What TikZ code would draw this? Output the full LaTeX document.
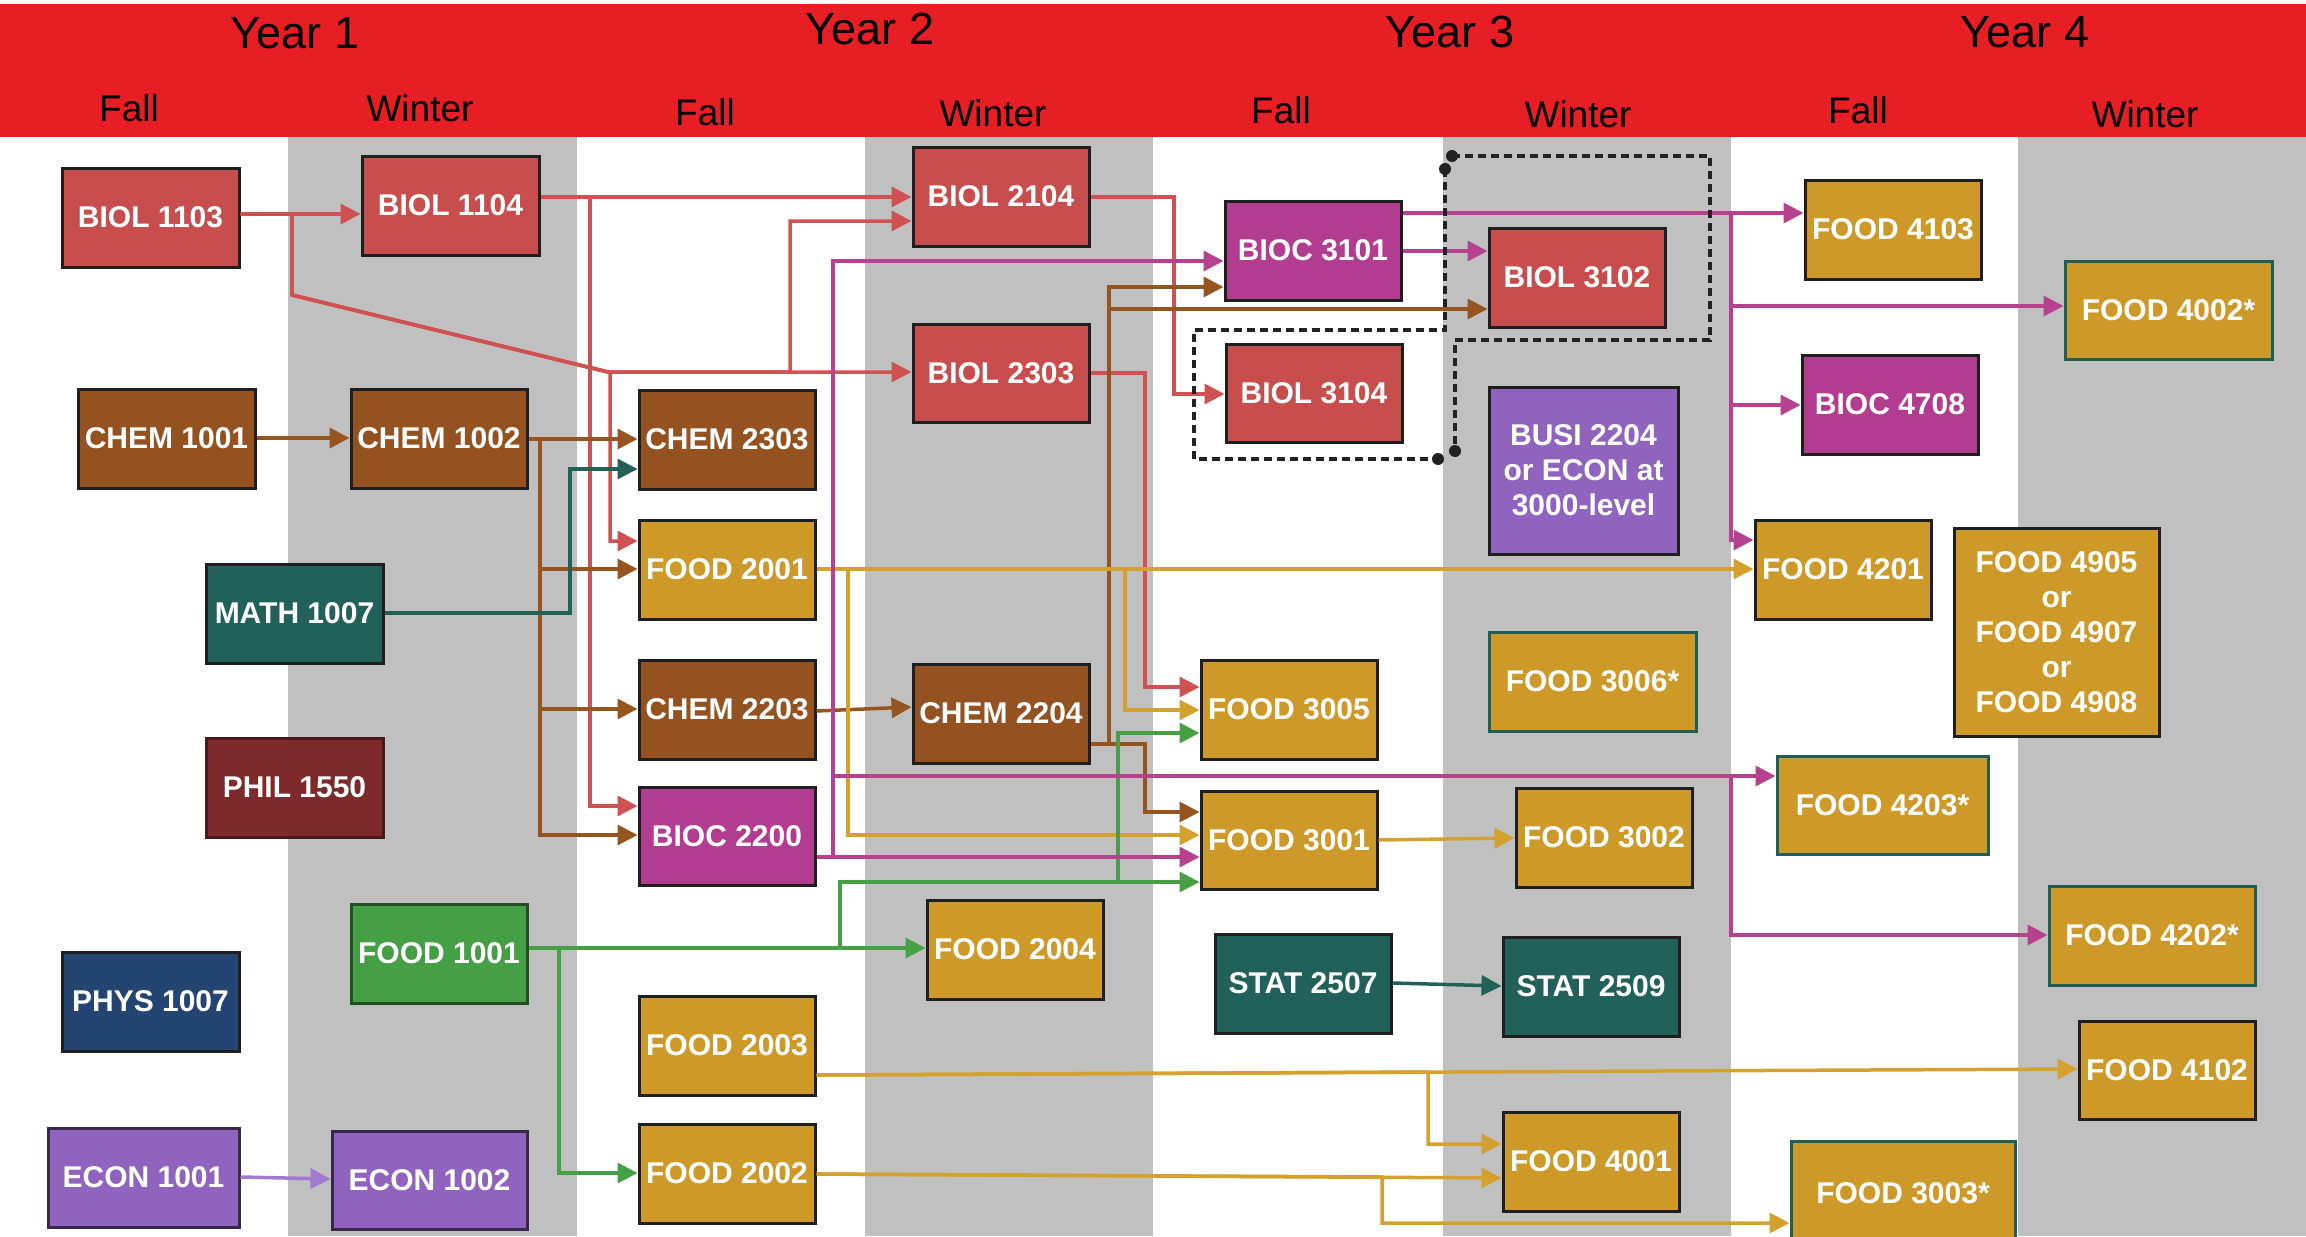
\documentclass[tikz,border=0pt]{standalone}
\usepackage{fontspec}
\setmainfont{Liberation Sans}
\usetikzlibrary{arrows.meta}
\definecolor{hdr}{HTML}{E81E25}
\definecolor{band}{HTML}{C0C0C0}
\definecolor{cbiol}{HTML}{C84E4E}
\definecolor{cchem}{HTML}{945220}
\definecolor{cteal}{HTML}{22615A}
\definecolor{cphil}{HTML}{7E2A2B}
\definecolor{cphys}{HTML}{244571}
\definecolor{cfood}{HTML}{CD9A29}
\definecolor{cgreen}{HTML}{45A045}
\definecolor{cecon}{HTML}{9063BE}
\definecolor{cbioc}{HTML}{B23C8F}
\definecolor{lbiol}{HTML}{CF5151}
\definecolor{lchem}{HTML}{96541F}
\definecolor{lteal}{HTML}{236157}
\definecolor{lfood}{HTML}{D4A12E}
\definecolor{lgreen}{HTML}{46A145}
\definecolor{lbioc}{HTML}{B5418F}
\definecolor{lecon}{HTML}{A07AD0}
\definecolor{edgeteal}{HTML}{1F5E56}
\definecolor{dashc}{HTML}{222222}
\newcommand\crs[7]{\node[box,#6,minimum width={(#4-#2)*1pt},minimum height={(#5-#3)*1pt}] (#1) at ({(#2+#4)/2},{(#3+#5)/2}) {#7};}
\begin{document}
\begin{tikzpicture}[x=1pt,y=-1pt,
  box/.style={draw=black!88, line width=3pt, inner sep=0pt, text=white,
    font=\fontsize{30}{35}\selectfont\bfseries, align=center},
  yearlbl/.style={inner sep=0pt, font=\fontsize{45}{50}\selectfont},
  semlbl/.style={inner sep=0pt, font=\fontsize{37}{42}\selectfont},
  conn/.style={line width=3.5pt, -{Triangle[length=20pt,width=20pt]}},
  biolc/.style={conn, draw=lbiol},
  chemc/.style={conn, draw=lchem},
  tealc/.style={conn, draw=lteal},
  foodc/.style={conn, draw=lfood},
  greenc/.style={conn, draw=lgreen},
  biocc/.style={conn, draw=lbioc},
  econc/.style={conn, draw=lecon},
  bracket/.style={draw=dashc, line width=4pt, dash pattern=on 8pt off 5pt},
  enddot/.style={fill=dashc, circle, inner sep=0pt, minimum size=12pt}
]
\useasboundingbox (0,0) rectangle (2306,1236);
\fill[white] (0,0) rectangle (2306,1236);
% header and bands
\fill[hdr] (0,4) rectangle (2306,137);
\fill[band] (288,137) rectangle (576.5,1236);
\fill[band] (864.5,137) rectangle (1153,1236);
\fill[band] (1443,137) rectangle (1731,1236);
\fill[band] (2018,137) rectangle (2306,1236);
\node[yearlbl] (y1) at (295,33) {Year 1};
\node[yearlbl] (y2) at (870,29) {Year 2};
\node[yearlbl] (y3) at (1450,32) {Year 3};
\node[yearlbl] (y4) at (2025,32) {Year 4};
\node[semlbl] (s1) at (129,108) {Fall};
\node[semlbl] (s2) at (420,108) {Winter};
\node[semlbl] (s3) at (705,112) {Fall};
\node[semlbl] (s4) at (993,113) {Winter};
\node[semlbl] (s5) at (1281,110) {Fall};
\node[semlbl] (s6) at (1578,114) {Winter};
\node[semlbl] (s7) at (1858,110) {Fall};
\node[semlbl] (s8) at (2145,114) {Winter};
% course boxes
\crs{b1103}{62}{168}{239}{267}{fill=cbiol}{BIOL 1103}
\crs{b1104}{362}{156}{539}{255}{fill=cbiol}{BIOL 1104}
\crs{c1001}{78}{389}{255}{488}{fill=cchem}{CHEM 1001}
\crs{c1002}{351}{389}{527}{488}{fill=cchem}{CHEM 1002}
\crs{m1007}{206}{564}{383}{663}{fill=cteal}{MATH 1007}
\crs{p1550}{206}{738}{383}{837}{fill=cphil,draw=cphil!60!black}{PHIL 1550}
\crs{ph1007}{62}{952}{239}{1051}{fill=cphys}{PHYS 1007}
\crs{f1001}{351}{904}{527}{1003}{fill=cgreen,draw=cgreen!50!black}{FOOD 1001}
\crs{e1001}{48}{1128}{239}{1227}{fill=cecon,draw=cecon!40!black}{ECON 1001}
\crs{e1002}{332}{1131}{527}{1229}{fill=cecon,draw=cecon!40!black}{ECON 1002}
\crs{c2303}{639}{390}{815}{489}{fill=cchem}{CHEM 2303}
\crs{f2001}{639}{520}{815}{619}{fill=cfood}{FOOD 2001}
\crs{c2203}{639}{660}{815}{759}{fill=cchem}{CHEM 2203}
\crs{bc2200}{639}{787}{815}{885}{fill=cbioc}{BIOC 2200}
\crs{f2003}{639}{996}{815}{1095}{fill=cfood}{FOOD 2003}
\crs{f2002}{639}{1124}{815}{1223}{fill=cfood}{FOOD 2002}
\crs{b2104}{913}{147}{1089}{246}{fill=cbiol}{BIOL 2104}
\crs{b2303}{913}{324}{1089}{422}{fill=cbiol}{BIOL 2303}
\crs{c2204}{913}{664}{1089}{763}{fill=cchem}{CHEM 2204}
\crs{f2004}{927}{900}{1103}{999}{fill=cfood}{FOOD 2004}
\crs{bc3101}{1225}{201}{1401}{300}{fill=cbioc}{BIOC 3101}
\crs{b3104}{1226}{344}{1402}{442}{fill=cbiol}{BIOL 3104}
\crs{f3005}{1201}{660}{1377}{759}{fill=cfood}{FOOD 3005}
\crs{f3001}{1201}{791}{1377}{889}{fill=cfood}{FOOD 3001}
\crs{s2507}{1215}{934}{1391}{1033}{fill=cteal}{STAT 2507}
\crs{b3102}{1489}{228}{1665}{327}{fill=cbiol}{BIOL 3102}
\crs{busi}{1489}{387}{1678}{554}{fill=cecon}{BUSI 2204\\or ECON at\\3000-level}
\crs{f3006}{1489}{632}{1696}{731}{fill=cfood,draw=edgeteal}{FOOD 3006*}
\crs{f3002}{1516}{788}{1692}{887}{fill=cfood}{FOOD 3002}
\crs{s2509}{1503}{937}{1679}{1036}{fill=cteal}{STAT 2509}
\crs{f4001}{1503}{1112}{1679}{1211}{fill=cfood}{FOOD 4001}
\crs{f4103}{1805}{180}{1981}{279}{fill=cfood}{FOOD 4103}
\crs{bc4708}{1802}{355}{1978}{454}{fill=cbioc}{BIOC 4708}
\crs{f4201}{1755}{520}{1931}{619}{fill=cfood}{FOOD 4201}
\crs{f4203}{1777}{756}{1988}{854}{fill=cfood,draw=edgeteal}{FOOD 4203*}
\crs{f3003}{1791}{1141}{2015}{1246}{fill=cfood,draw=edgeteal}{FOOD 3003*}
\crs{f4002}{2065}{261}{2272}{359}{fill=cfood,draw=edgeteal}{FOOD 4002*}
\crs{f49}{1954}{528}{2159}{736}{fill=cfood}{FOOD 4905\\or\\FOOD 4907\\or\\FOOD 4908}
\crs{f4202}{2049}{886}{2255}{985}{fill=cfood,draw=edgeteal}{FOOD 4202*}
\crs{f4102}{2079}{1021}{2255}{1119}{fill=cfood}{FOOD 4102}
% red (BIOL) connectors
\draw[biolc] (b1103.east |- 0,214) -- (b1104.west |- 0,214);
\draw[biolc] (b1103.east |- 0,214) -- (292,214) -- (292,295) -- (608,372) -- (b2303.west |- 0,372);
\draw[biolc] (b1103.east |- 0,214) -- (292,214) -- (292,295) -- (608,372) -- (790,372) -- (790,221) -- (b2104.west |- 0,221);
\draw[biolc] (b1103.east |- 0,214) -- (292,214) -- (292,295) -- (608,372) -- (610,372) -- (610,541) -- (f2001.west |- 0,541);
\draw[biolc] (b1104.east |- 0,197) -- (b2104.west |- 0,197);
\draw[biolc] (b1104.east |- 0,197) -- (590,197) -- (590,806) -- (bc2200.west |- 0,806);
\draw[biolc] (b2104.east |- 0,197) -- (1174,197) -- (1174,394) -- (b3104.west |- 0,394);
\draw[biolc] (b2303.east |- 0,373) -- (1145,373) -- (1145,687) -- (f3005.west |- 0,687);
% brown (CHEM) connectors
\draw[chemc] (c1001.east |- 0,438) -- (c1002.west |- 0,438);
\draw[chemc] (c1002.east |- 0,439) -- (c2303.west |- 0,439);
\draw[chemc] (c1002.east |- 0,439) -- (540,439) -- (540,569) -- (f2001.west |- 0,569);
\draw[chemc] (c1002.east |- 0,439) -- (540,439) -- (540,709) -- (c2203.west |- 0,709);
\draw[chemc] (c1002.east |- 0,439) -- (540,439) -- (540,835) -- (bc2200.west |- 0,835);
\draw[chemc] (c2203.east |- 0,711) -- (c2204.west |- 0,707);
\draw[chemc] (c2204.east |- 0,744) -- (1109,744) -- (1109,287) -- (bc3101.west |- 0,287);
\draw[chemc] (c2204.east |- 0,744) -- (1109,744) -- (1109,309) -- (b3102.west |- 0,309);
\draw[chemc] (c2204.east |- 0,744) -- (1145,744) -- (1145,812) -- (f3001.west |- 0,812);
% teal connectors
\draw[tealc] (m1007.east |- 0,613) -- (570,613) -- (570,469) -- (c2303.west |- 0,469);
\draw[tealc] (s2507.east |- 0,983) -- (s2509.west |- 0,986);
% gold (FOOD) connectors
\draw[foodc] (f2001.east |- 0,569) -- (f4201.west |- 0,569);
\draw[foodc] (f2001.east |- 0,569) -- (848,569) -- (848,835) -- (f3001.west |- 0,835);
\draw[foodc] (f2001.east |- 0,569) -- (1125,569) -- (1125,710) -- (f3005.west |- 0,710);
\draw[foodc] (f3001.east |- 0,840) -- (f3002.west |- 0,838);
\draw[foodc] (f2003.east |- 0,1075) -- (f4102.west |- 0,1069);
\draw[foodc] (f2003.east |- 0,1075) -- (1428,1072) -- (1428,1144) -- (f4001.west |- 0,1144);
\draw[foodc] (f2002.east |- 0,1174) -- (f4001.west |- 0,1178);
\draw[foodc] (f2002.east |- 0,1174) -- (1382,1177) -- (1382,1223) -- (f3003.west |- 0,1223);
% green connectors
\draw[greenc] (f1001.east |- 0,948) -- (f2004.west |- 0,948);
\draw[greenc] (f1001.east |- 0,948) -- (559,948) -- (559,1173) -- (f2002.west |- 0,1173);
\draw[greenc] (f1001.east |- 0,948) -- (840,948) -- (840,882) -- (f3001.west |- 0,882);
\draw[greenc] (f1001.east |- 0,948) -- (840,948) -- (840,882) -- (1118,882) -- (1118,733) -- (f3005.west |- 0,733);
% magenta (BIOC) connectors
\draw[biocc] (bc2200.east |- 0,857) -- (f3001.west |- 0,857);
\draw[biocc] (bc2200.east |- 0,857) -- (833,857) -- (833,776) -- (f4203.west |- 0,776);
\draw[biocc] (bc2200.east |- 0,857) -- (833,857) -- (833,776) -- (1731,776) -- (1731,935) -- (f4202.west |- 0,935);
\draw[biocc] (bc2200.east |- 0,857) -- (833,857) -- (833,261) -- (bc3101.west |- 0,261);
\draw[biocc] (bc3101.east |- 0,213) -- (f4103.west |- 0,213);
\draw[biocc] (bc3101.east |- 0,251) -- (b3102.west |- 0,251);
\draw[biocc] (bc3101.east |- 0,213) -- (1731,213) -- (1731,306) -- (f4002.west |- 0,306);
\draw[biocc] (bc3101.east |- 0,213) -- (1731,213) -- (1731,405) -- (bc4708.west |- 0,405);
\draw[biocc] (bc3101.east |- 0,213) -- (1731,213) -- (1731,540) -- (f4201.west |- 0,540);
% purple (ECON) connector
\draw[econc] (e1001.east |- 0,1177) -- (e1002.west |- 0,1179);
% dashed brackets
\coordinate (ka) at (1452,156);
\coordinate (kb) at (1455,451);
\coordinate (kc) at (1445,169);
\coordinate (kd) at (1438,459);
\draw[bracket] (ka) -- (1710,156) -- (1710,340) -- (1455,340) -- (kb);
\draw[bracket] (kc) -- (1445,330) -- (1194,330) -- (1194,459) -- (kd);
\node[enddot] (da) at (ka) {};
\node[enddot] (db) at (kb) {};
\node[enddot] (dc) at (kc) {};
\node[enddot] (dd) at (kd) {};
\end{tikzpicture}
\end{document}
